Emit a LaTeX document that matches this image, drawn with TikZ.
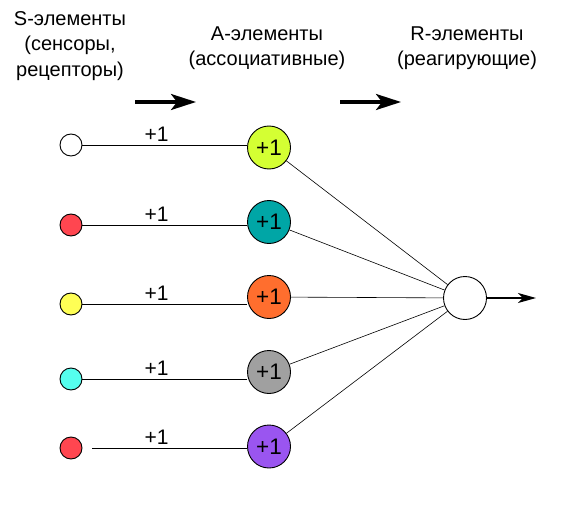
\documentclass[tikz,border=0pt]{standalone}
\usepackage{fontspec}
\setmainfont{Liberation Sans}
\usetikzlibrary{arrows.meta}
\definecolor{limeA}{HTML}{D4FF33}
\definecolor{tealA}{HTML}{00A6A6}
\definecolor{orangeA}{HTML}{FF6E2E}
\definecolor{greyA}{HTML}{A0A0A0}
\definecolor{violetA}{HTML}{9A55F0}
\definecolor{redS}{HTML}{FF4650}
\definecolor{yellowS}{HTML}{FFFF55}
\definecolor{cyanS}{HTML}{55FFEE}
\tikzset{
  sens/.style={circle, draw, line width=0.9pt, minimum size=22pt, inner sep=0pt},
  assoc/.style={circle, draw, line width=0.9pt, minimum size=43pt, inner sep=0pt,
                font=\fontsize{22.5}{22.5}\selectfont},
  weight/.style={above, font=\fontsize{21}{21}\selectfont, inner sep=3pt},
  caption/.style={align=center, font=\fontsize{20}{25.5}\selectfont},
  flow/.style={line width=3.2pt, -{Stealth[length=25pt, width=16pt, inset=6pt]}}
}
\begin{document}
\begin{tikzpicture}[x=1pt, y=-1pt]
  \useasboundingbox (0,0) rectangle (570,508);
  % headings
  \node [caption] (capS) at (70,46)  {S-элементы\\(сенсоры,\\рецепторы)};
  \node [caption] (capA) at (267,48) {A-элементы\\(ассоциативные)};
  \node [caption] (capR) at (467,48) {R-элементы\\(реагирующие)};
  \coordinate (f1a) at (135,102); \coordinate (f1b) at (196,102);
  \coordinate (f2a) at (340,102); \coordinate (f2b) at (401,102);
  \draw [flow] (f1a) -- (f1b);
  \draw [flow] (f2a) -- (f2b);
  % sensors
  \node [sens, fill=white]   (s1) at (71,145) {};
  \node [sens, fill=redS]    (s2) at (71,225) {};
  \node [sens, fill=yellowS] (s3) at (71,304) {};
  \node [sens, fill=cyanS]   (s4) at (71,379) {};
  \node [sens, fill=redS]    (s5) at (71,448) {};
  % associative layer
  \node [assoc, fill=limeA]   (a1) at (269,147.5) {+1};
  \node [assoc, fill=tealA]   (a2) at (269,222)   {+1};
  \node [assoc, fill=orangeA] (a3) at (269,297)   {+1};
  \node [assoc, fill=greyA]   (a4) at (269,372)   {+1};
  \node [assoc, fill=violetA] (a5) at (269,446.5) {+1};
  % reacting element
  \node [sens, minimum size=43pt, fill=white] (r) at (465,298) {};
  \coordinate (out) at (536,298);
  % S -> A
  \draw [line width=0.9pt] (s1.east) -- (s1.east -| a1.west) node [weight, pos=0.45] {+1};
  \draw [line width=0.9pt] (s2.east) -- (s2.east -| a2.west) node [weight, pos=0.45] {+1};
  \draw [line width=0.9pt] (s3.east) -- (s3.east -| a3.west) node [weight, pos=0.45] {+1};
  \draw [line width=0.9pt] (s4.east) -- (s4.east -| a4.west) node [weight, pos=0.45] {+1};
  \draw [line width=0.9pt, shorten <=10pt] (s5.east) -- (s5.east -| a5.west)
        node [weight, pos=0.45] {+1};
  % A -> R
  \draw [line width=0.6pt] (a1) -- (r);
  \draw [line width=0.6pt] (a2) -- (r);
  \draw [line width=0.6pt] (a3) -- (r);
  \draw [line width=0.6pt] (a4) -- (r);
  \draw [line width=0.6pt] (a5) -- (r);
  \draw [line width=1.1pt, -{Stealth[length=18pt, width=10pt, inset=5pt]}] (r) -- (out);
\end{tikzpicture}
\end{document}
